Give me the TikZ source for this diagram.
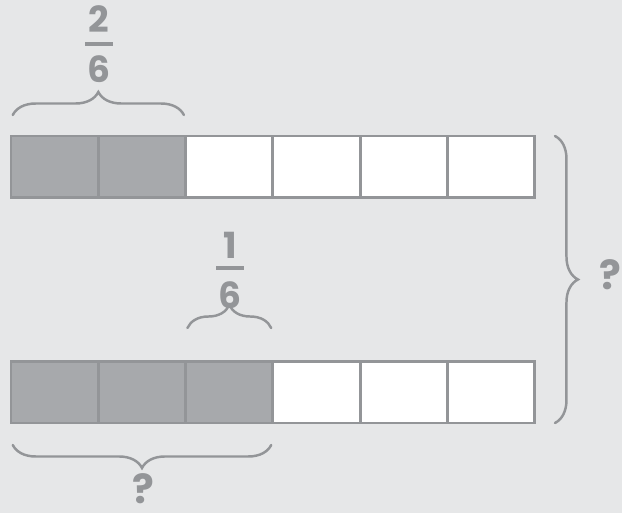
\documentclass[tikz,border=0pt]{standalone}
\usepackage{fontspec}
\setsansfont{Poppins}
\usetikzlibrary{decorations.pathreplacing, positioning}
\definecolor{bgpaper}{HTML}{E6E7E8}
\definecolor{partgray}{HTML}{A7A9AC}
\definecolor{linegray}{HTML}{939598}
\tikzset{
    cell/.style={rectangle, draw=linegray, line width=1.7pt, minimum width=1.7467cm, minimum height=1.24cm, inner sep=0pt, outer sep=0pt},
    shaded/.style={cell, fill=partgray},
    blank/.style={cell, fill=white},
    lbl/.style={font=\sffamily\bfseries\fontsize{20.5}{22}\selectfont, text=linegray, inner sep=0pt, anchor=base},
    ask/.style={lbl, font=\sffamily\bfseries\fontsize{23}{24}\selectfont},
    fracbar/.style={linegray, line width=1.8pt},
    bracket/.style={decorate, decoration={brace, amplitude=0.46cm}, linegray, line width=1.4pt, line cap=round},
}

\begin{document}
\begin{tikzpicture}[x=0.02cm, y=-0.02cm]

% Paper
\fill[bgpaper] (0,0) rectangle (622,513);
\useasboundingbox (0,0) rectangle (622,513);

% Top bar: 2 of 6 parts
\foreach \i in {1,...,6} {
    \ifnum\i<3
        \node[shaded] (t\i) at ({11+87.33*(\i-0.5)}, 167) {};
    \else
        \node[blank] (t\i) at ({11+87.33*(\i-0.5)}, 167) {};
    \fi
}

% Bottom bar: 3 of 6 parts
\foreach \i in {1,...,6} {
    \ifnum\i<4
        \node[shaded] (b\i) at ({11+87.33*(\i-0.5)}, 392) {};
    \else
        \node[blank] (b\i) at ({11+87.33*(\i-0.5)}, 392) {};
    \fi
}

% Brace over the first two parts
\coordinate (topL) at ([xshift=1pt, yshift=0.42cm]t1.north west);
\coordinate (topR) at ([xshift=-1pt, yshift=0.42cm]t2.north east);
\draw[bracket] (topL) -- (topR);
\node[lbl] (num2) at (99,33) {2};
\draw[fracbar] (85,44) -- (113,44);
\node[lbl] (den6a) at (99,83) {6};

% Brace over the third part of the lower bar
\coordinate (midL) at ([xshift=1pt, yshift=0.66cm]b3.north west);
\coordinate (midR) at ([xshift=-1pt, yshift=0.66cm]b3.north east);
\draw[bracket] (midL) -- (midR);
\node[lbl] (num1) at (230,258) {1};
\draw[fracbar] (216,268) -- (244,268);
\node[lbl] (den6b) at (230,308) {6};

% Brace under the first three parts
\coordinate (lowR) at ([xshift=-1pt, yshift=-0.44cm]b3.south east);
\coordinate (lowL) at ([xshift=1pt, yshift=-0.44cm]b1.south west);
\draw[bracket] (lowR) -- (lowL);
\node[ask] (askLow) at (143,503) {?};

% Brace round both bars
\coordinate (sideT) at ([xshift=0.4cm]t6.north east);
\coordinate (sideB) at ([xshift=0.4cm]b6.south east);
\draw[bracket] (sideT) -- (sideB);
\node[ask] (askSide) at (610,290) {?};

\end{tikzpicture}
\end{document}
